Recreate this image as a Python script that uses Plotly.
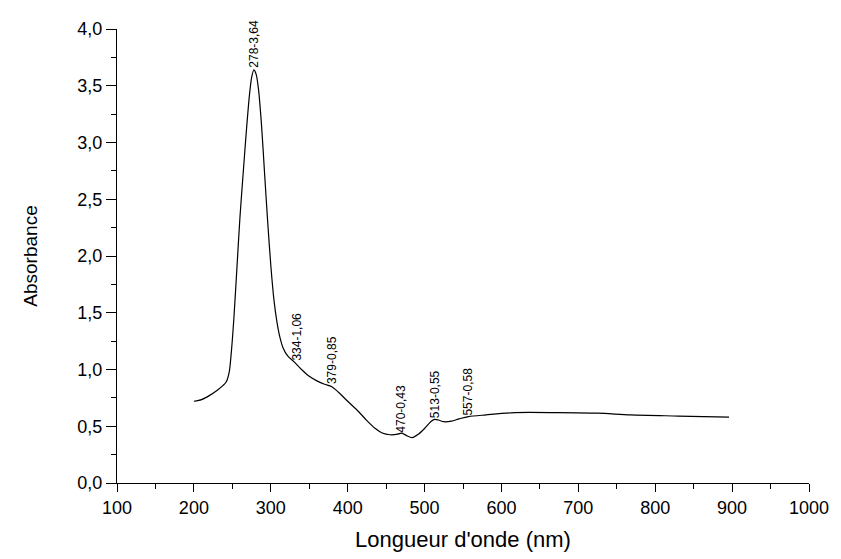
import plotly.graph_objects as go

# Spectrum
wavelength = [200, 210, 220, 230, 238, 242, 246, 248, 252, 256, 260, 264, 268, 272, 275, 278,
              281, 284, 288, 292, 296, 300, 304, 308, 312, 316, 322, 330, 340, 350, 360, 370,
              379, 388, 400, 414, 425, 436, 445, 455, 465, 470, 476, 484, 492, 500, 508, 513,
              518, 525, 535, 545, 557, 580, 617, 673, 725, 768, 830, 896]
absorbance = [0.72, 0.735, 0.77, 0.815, 0.86, 0.89, 0.98, 1.1, 1.45, 1.9, 2.35, 2.72, 3.08, 3.40, 3.57, 3.64,
              3.60, 3.47, 3.15, 2.72, 2.30, 1.92, 1.62, 1.42, 1.28, 1.19, 1.12, 1.07, 1.0, 0.94, 0.90, 0.87,
              0.85, 0.80, 0.72, 0.63, 0.55, 0.48, 0.44, 0.425, 0.43, 0.44, 0.42, 0.40, 0.43, 0.48, 0.54, 0.56,
              0.555, 0.54, 0.545, 0.565, 0.585, 0.60, 0.62, 0.62, 0.615, 0.60, 0.59, 0.58]

# Peak labels
peak_x = [278, 334, 379, 470, 513, 557]
peak_y = [3.64, 1.06, 0.85, 0.43, 0.55, 0.58]
peak_labels = ["278-3,64", "334-1,06", "379-0,85", "470-0,43", "513-0,55", "557-0,58"]

x_ticks = [100, 200, 300, 400, 500, 600, 700, 800, 900, 1000]
y_ticks = [0.0, 0.5, 1.0, 1.5, 2.0, 2.5, 3.0, 3.5, 4.0]

fig = go.Figure()
fig.add_trace(go.Scatter(
    x=wavelength, y=absorbance, mode="lines",
    line=dict(color="black", width=1.2, shape="spline", smoothing=0.8),
    showlegend=False, hoverinfo="skip"))

for px, py, lab in zip(peak_x, peak_y, peak_labels):
    fig.add_annotation(x=px, y=py, text=lab, showarrow=False, textangle=-90,
                       xanchor="center", yanchor="bottom",
                       font=dict(family="Liberation Sans, Arial", size=12, color="black"))

font_family = "Liberation Sans, Arial"
fig.update_layout(
    width=841, height=559,
    margin=dict(l=117, r=28, t=29, b=70),
    paper_bgcolor="white", plot_bgcolor="white",
    separators=", ",
    font=dict(family=font_family, color="black"),
    xaxis=dict(range=[100, 1000], tickvals=x_ticks, ticktext=[str(v) for v in x_ticks],
               showline=True, linecolor="black", linewidth=1.2, showgrid=False, zeroline=False,
               ticks="outside", ticklen=8, tickwidth=1.2, tickcolor="black",
               minor=dict(dtick=50, ticks="outside", ticklen=5, tickwidth=1.2, tickcolor="black", showgrid=False),
               tickfont=dict(size=18),
               title=dict(text="Longueur d'onde (nm)", font=dict(size=22), standoff=14)),
    yaxis=dict(range=[0, 4.0], tickvals=y_ticks, tickformat=".1f",
               showline=True, linecolor="black", linewidth=1.2, showgrid=False, zeroline=False,
               ticks="outside", ticklen=10, tickwidth=1.2, tickcolor="black",
               minor=dict(dtick=0.25, ticks="outside", ticklen=5, tickwidth=1.2, tickcolor="black", showgrid=False),
               tickfont=dict(size=18),
               title=dict(text="Absorbance", font=dict(size=19), standoff=34)),
)

fig.write_html("out.html")
